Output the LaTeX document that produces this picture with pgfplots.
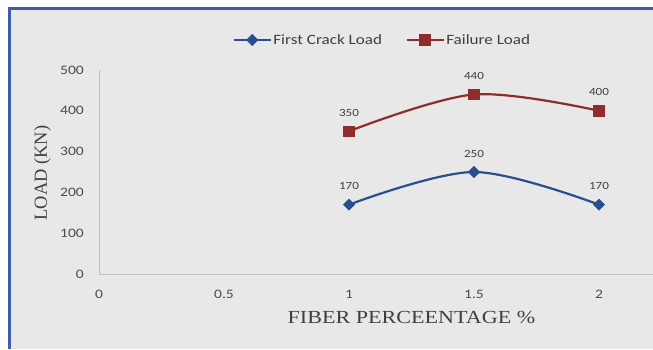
\documentclass[border=0pt]{standalone}
\usepackage{fontspec}
\usepackage{pgfplots}
\pgfplotsset{compat=1.18}
\setmainfont{Liberation Serif}
\newfontfamily\calwide[FakeStretch=1.2]{Carlito}
\newfontfamily\serifwide[FakeStretch=1.2]{Liberation Serif}
\newcommand\tickfont{\calwide\fontsize{13}{15}\selectfont}
\newcommand\legfont{\calwide\fontsize{14.3}{16}\selectfont}
\newcommand\datafont{\calwide\fontsize{11}{13}\selectfont}

\definecolor{bggray}{HTML}{E8E8E8}
\definecolor{frameblue}{HTML}{3B5EA6}
\definecolor{axisgray}{HTML}{BFBFBF}
\definecolor{ticktext}{HTML}{4D4D4D}
\definecolor{labeltext}{HTML}{404040}
\definecolor{crackblue}{HTML}{2A4F8F}
\definecolor{failred}{HTML}{8F2D2D}

\begin{document}
\begin{tikzpicture}[x=1bp,y=1bp]
\useasboundingbox (0,0) rectangle (653,349);
\fill[white] (0,0) rectangle (653,349);
\fill[bggray] (9.5,0) rectangle (653,340);
\draw[frameblue, line width=3bp] (9.5,0) -- (9.5,340) -- (653,340);
\clip (0,0) rectangle (653,349);
\begin{axis}[
  at={(99bp,75bp)}, anchor=south west,
  scale only axis, width=625bp, height=204bp,
  xmin=0, xmax=2.5, ymin=0, ymax=500,
  axis lines=left,
  axis line style={-, draw=axisgray, line width=0.8bp},
  major tick length=0pt,
  xtick={0,0.5,1,1.5,2},
  ytick={0,100,200,300,400,500},
  /pgf/number format/assume math mode=true,
  tick label style={font=\tickfont, text=ticktext},
  xticklabel style={anchor=center, yshift=-20bp},
  yticklabel style={anchor=east, inner sep=0pt, xshift=-15bp},
  xlabel={FIBER PERCEENTAGE \%},
  xlabel style={at={(axis description cs:0.5,0)}, anchor=center, yshift=-43bp,
                font=\serifwide\fontsize{18.5}{20}\selectfont, text=labeltext},
  clip=false,
  legend columns=2,
  legend style={at={(axis description cs:0.2144,1)}, anchor=west, yshift=30bp,
                draw=none, fill=none, inner sep=0pt, font=\legfont, text=labeltext,
                /tikz/every even column/.append style={column sep=22bp}},
  legend image code/.code={\draw[#1, mark repeat=2, mark phase=2]
      plot coordinates {(0bp,0bp) (18bp,0bp) (36bp,0bp)};},
  nodes near coords,
  nodes near coords style={font=\datafont, text=labeltext, anchor=center, yshift=18.5bp},
  every axis plot/.append style={line width=2.2bp, smooth, tension=0.55},
]
\addplot[crackblue, mark=square*, mark size=3.2bp,
         mark options={rotate=45, solid, fill=crackblue}]
  coordinates {(1,170) (1.5,250) (2,170)};
\addlegendentry{First Crack Load}
\addplot[failred, mark=square*, mark size=4.6bp, mark options={solid, fill=failred}]
  coordinates {(1,350) (1.5,440) (2,400)};
\addlegendentry{Failure Load}
\end{axis}
\node[rotate=90, font=\fontsize{18.5}{20}\selectfont, text=labeltext] at (42.5,176) {LOAD (KN)};
\end{tikzpicture}
\end{document}
